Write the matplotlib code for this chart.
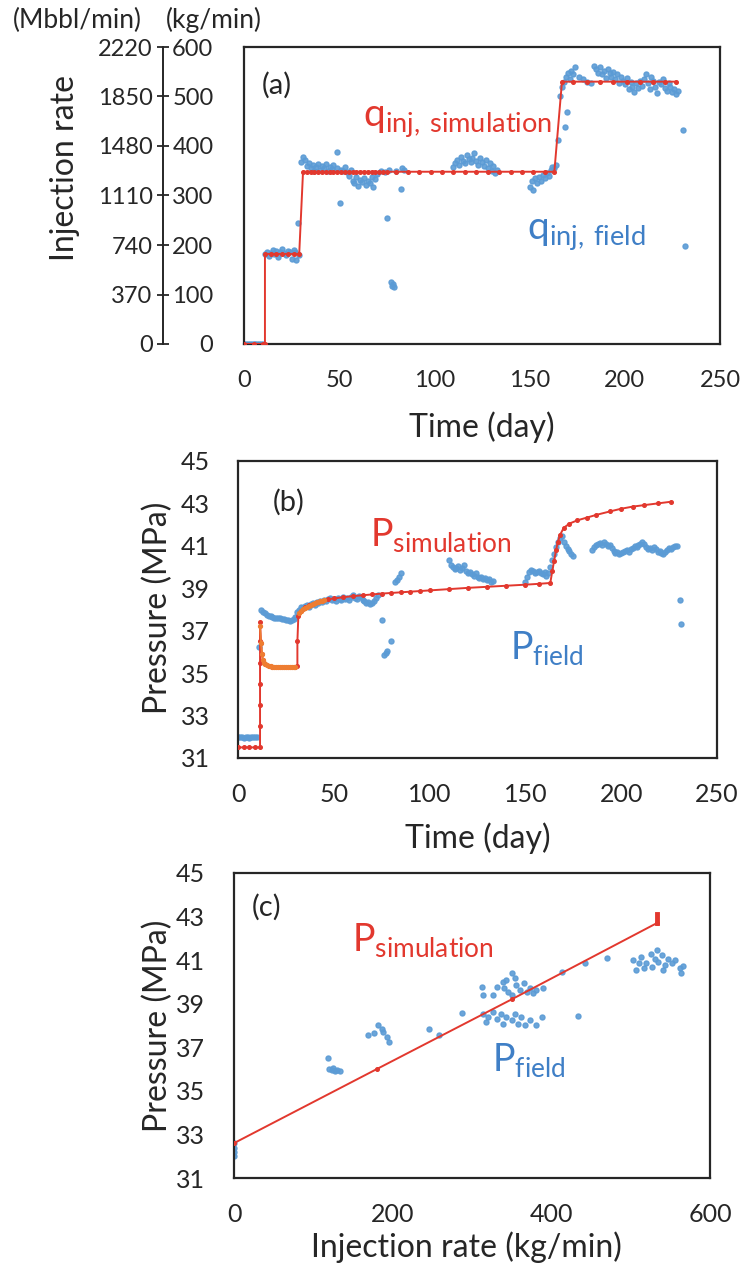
import numpy as np
import matplotlib
matplotlib.use("Agg")
import matplotlib.pyplot as plt

plt.rcParams['font.family'] = ['Lato', 'DejaVu Sans']

RED = '#e2382e'
ORANGE = '#ee7d32'
BLUE = '#5b9bd5'
TXT_BLUE = '#3f7fc6'
DARK = '#262626'

# ---------------- (a) injection rate vs time ----------------
field_day_a = [0, 1, 2, 3, 4, 5, 6, 7, 8, 9,
               10, 11, 12, 13, 14, 15, 16, 17, 18, 19,
               20, 21, 22, 23, 24, 25, 26, 27, 27.5, 28.4,
               29, 30, 31, 32, 33, 34, 35, 36, 37, 38,
               39, 40, 41, 42, 43, 44, 45, 46, 47, 48.7,
               49, 50.4, 51, 52, 53, 54, 55, 56, 57, 58,
               59, 60, 61, 62, 63, 64, 65, 66, 67, 68,
               69, 70, 72, 74, 75, 76, 77, 77.5, 78, 79,
               80, 82.3, 83, 84, 110, 111, 112, 113, 114, 115,
               116, 117, 118, 119, 120, 121, 122, 123, 124, 125,
               126, 127, 128, 129, 130, 131, 132, 133, 150, 151,
               152, 153, 154, 155, 156, 157, 158, 159, 160, 161,
               162, 163, 164, 165, 166, 167, 168.6, 169.5, 168, 169,
               170, 171, 172, 173, 174, 176, 178, 180, 182, 184,
               185, 186, 187, 188, 189, 190, 191, 192, 193, 194,
               195, 196, 197, 198, 199, 200, 201, 202, 203, 204,
               205, 206, 207, 208, 209, 210, 211, 212, 213, 214,
               215, 216, 217, 218, 219, 220, 221, 222, 223, 224,
               225, 226, 227, 228, 230.4, 231.6]
field_rate_a = [0, 0, 0, 0, 0, 0, 0, 0, 0, 0,
                0, 182, 186, 178, 184, 190, 181, 187, 176, 185,
                192, 183, 179, 188, 185, 172, 190, 186, 170, 245,
                180, 368, 378, 372, 360, 366, 355, 362, 350, 358,
                364, 352, 360, 356, 363, 350, 358, 353, 361, 388,
                355, 285, 352, 349, 357, 347, 340, 352, 330, 325,
                338, 320, 332, 328, 335, 322, 330, 326, 338, 318,
                333, 344, 350, 348, 254, 352, 125, 118, 122, 115,
                350, 314, 355, 352, 358, 366, 372, 362, 378, 370,
                365, 381, 374, 368, 376, 385, 370, 362, 375, 368,
                360, 372, 355, 365, 350, 360, 345, 352, 318, 330,
                312, 335, 325, 338, 330, 342, 336, 345, 340, 352,
                358, 355, 362, 412, 500, 520, 439, 469, 530, 540,
                548, 535, 552, 545, 560, 540, 535, 530, 528, 562,
                555, 548, 560, 545, 552, 538, 555, 548, 540, 550,
                535, 545, 528, 540, 532, 525, 538, 515, 530, 520,
                510, 528, 518, 532, 522, 535, 545, 528, 515, 540,
                532, 520, 508, 530, 525, 535, 518, 512, 528, 520,
                510, 516, 505, 512, 432, 197]

sim_day_a = [0, 5, 10, 11, 11, 14, 17, 20, 23, 26, 29,
             31, 33, 35, 37, 39, 41, 43, 45, 47, 49, 51, 53, 55, 57, 59, 61,
             63, 65, 67, 69, 71, 73, 75,
             80, 86, 92, 98, 104, 110, 116, 122, 128, 134, 140, 146, 152, 158, 163,
             167, 173, 180, 187, 194, 201, 208, 215, 221, 227]
sim_rate_a = [0, 0, 0, 0, 182, 182, 182, 182, 182, 182, 182,
              348, 348, 348, 348, 348, 348, 348, 348, 348, 348, 348, 348, 348, 348, 348, 348,
              348, 348, 348, 348, 348, 348, 348,
              348, 348, 348, 348, 348, 348, 348, 348, 348, 348, 348, 348, 348, 348, 348,
              530, 530, 530, 530, 530, 530, 530, 530, 530, 530]

kg_ticks = [0, 100, 200, 300, 400, 500, 600]
mbbl_ticks = [0, 370, 740, 1110, 1480, 1850, 2220]
time_ticks = [0, 50, 100, 150, 200, 250]

# ---------------- (b) pressure vs time ----------------
field_day_b = [0, 1, 2, 3, 4, 5, 6, 7, 8, 9,
               10, 11.2, 12, 13, 14, 15, 16, 17, 18, 19,
               20, 21, 22, 23, 24, 25, 26, 27, 28, 29,
               30, 31, 32, 33, 34, 35, 36, 37, 38, 39,
               40, 41, 42, 43, 44, 45, 46, 47, 48, 49,
               50, 51, 52, 53, 54, 55, 56, 57, 58, 59,
               60, 61, 62, 63, 64, 65, 66, 67, 68, 69,
               70, 71, 72, 73, 75, 76, 77, 78, 80, 82,
               83, 84, 85, 110, 111, 112, 113, 114, 115, 116,
               117, 118, 119, 120, 121, 122, 123, 124, 125, 126,
               127, 128, 129, 130, 131, 132, 133, 150, 151, 152,
               153, 154, 155, 156, 157, 158, 159, 160, 161, 162,
               163, 164, 165, 166, 167, 168, 169, 170, 171, 172,
               173, 174, 175, 185, 186, 187, 188, 189, 190, 191,
               192, 193, 194, 195, 196, 197, 198, 199, 200, 201,
               202, 203, 204, 205, 206, 207, 208, 209, 210, 211,
               212, 213, 214, 215, 216, 217, 218, 219, 220, 221,
               222, 223, 224, 225, 226, 227, 228, 229, 230.5, 231]
field_p_b = [32.0, 32.0, 32.0, 31.95, 32.0, 32.0, 31.95, 32.0, 32.0, 32.0,
             32.0, 36.25, 38.0, 37.9, 37.85, 37.75, 37.7, 37.7, 37.65, 37.6,
             37.6, 37.62, 37.58, 37.55, 37.55, 37.5, 37.52, 37.48, 37.5, 37.55,
             37.65, 37.9, 38.0, 38.1, 38.05, 38.15, 38.2, 38.1, 38.25, 38.3,
             38.2, 38.35, 38.3, 38.4, 38.35, 38.45, 38.4, 38.5, 38.55, 38.45,
             38.5, 38.4, 38.55, 38.5, 38.45, 38.6, 38.5, 38.55, 38.45, 38.6,
             38.7, 38.55, 38.5, 38.65, 38.6, 38.45, 38.4, 38.3, 38.35, 38.25,
             38.3, 38.4, 38.55, 38.7, 37.5, 35.85, 35.95, 36.05, 36.5, 39.3,
             39.4, 39.55, 39.7, 40.35, 40.1, 40.0, 39.9, 39.95, 40.05, 39.85,
             39.95, 40.1, 39.8, 39.7, 39.75, 39.65, 39.6, 39.7, 39.55, 39.5,
             39.55, 39.45, 39.5, 39.4, 39.45, 39.3, 39.35, 39.3, 39.55, 39.75,
             39.85, 39.8, 39.7, 39.75, 39.8, 39.7, 39.65, 39.75, 39.6, 39.7,
             40.0, 40.35, 40.6, 40.95, 41.2, 41.35, 41.45, 41.2, 41.0, 40.85,
             40.75, 40.6, 40.5, 40.8, 40.95, 41.05, 41.1, 41.15, 41.05, 41.2,
             41.1, 41.0, 41.05, 40.9, 40.75, 40.65, 40.7, 40.6, 40.65, 40.7,
             40.75, 40.8, 40.7, 40.85, 40.9, 41.0, 40.95, 41.05, 41.1, 41.2,
             41.1, 40.95, 40.85, 40.9, 40.8, 40.95, 40.85, 40.7, 40.75, 40.65,
             40.6, 40.7, 40.8, 40.9, 40.85, 40.95, 41.0, 41.0, 38.45, 37.3]

sim_day_b = [0, 3, 6, 9, 11.5, 11.5, 11.5, 11.5, 11.5, 11.5, 11.5,
             12, 12.5, 13, 14, 16, 18, 20, 22, 24, 26, 28, 30,
             31, 31, 31.5, 33, 35, 37, 39, 41, 44, 47, 50, 55, 60, 65, 70, 75, 80, 85, 90, 95, 100,
             110, 120, 130, 140, 150, 157, 163,
             164, 165, 166, 167, 168, 170, 173, 177, 182, 187, 194, 200, 206, 212, 219, 226]
sim_p_b = [31.5, 31.5, 31.5, 31.5, 31.5, 32.5, 33.5, 34.5, 35.5, 36.5, 37.4,
           36.4, 35.9, 35.6, 35.45, 35.35, 35.3, 35.3, 35.3, 35.3, 35.3, 35.3, 35.3,
           35.35, 36.5, 37.7, 37.95, 38.1, 38.2, 38.28, 38.35, 38.42, 38.48, 38.52, 38.58,
           38.63, 38.67, 38.71, 38.75, 38.78, 38.81, 38.84, 38.87, 38.9,
           38.96, 39.02, 39.07, 39.12, 39.17, 39.21, 39.25,
           39.8, 40.3, 40.8, 41.2, 41.5, 41.85, 42.05, 42.2, 42.33, 42.46, 42.62,
           42.75, 42.85, 42.92, 43.0, 43.08]

orange_day_b = [11.5, 12, 12.5, 13, 13.5, 14, 15, 16, 17, 18, 19, 20, 21, 22, 23,
                24, 25, 26, 27, 28, 29, 30, np.nan,
                32, 33, 34, 35, 36, 37, 38, 39, 40, 41, 42, 43, 44, 45]
orange_p_b = [37.2, 36.4, 35.9, 35.6, 35.5, 35.45, 35.4, 35.35, 35.32, 35.3, 35.3, 35.3,
              35.3, 35.3, 35.3, 35.3, 35.3, 35.3, 35.3, 35.3, 35.3, 35.3, np.nan,
              37.85, 37.95, 38.02, 38.08, 38.14, 38.18, 38.22, 38.26, 38.3, 38.33,
              38.36, 38.39, 38.41, 38.44]

p_ticks = [31, 33, 35, 37, 39, 41, 43, 45]

# ---------------- (c) pressure vs injection rate ----------------
field_rate_c = [0, 0, 0, 0,
                118, 120, 123, 125, 127, 130, 133,
                169, 176, 182, 186, 188, 193, 195,
                246, 258, 287,
                312, 314, 327, 331, 339, 340, 343, 345, 350, 351,
                354, 356, 360, 365, 369, 373, 377, 381, 390,
                314, 318, 320, 327, 331, 337, 339, 343, 350, 354,
                358, 362, 367, 373, 381, 388,
                413, 434, 442, 470,
                503, 507, 511, 513, 517, 519, 525, 527, 531, 533,
                535, 539, 541, 543, 547, 552, 556, 562, 564, 566]
field_p_c = [32.0, 32.2, 32.4, 32.6,
             36.5, 36.0, 35.95, 36.05, 35.9, 35.95, 35.9,
             37.56, 37.64, 38.02, 37.86, 37.71, 37.48, 37.25,
             37.82, 37.56, 38.58,
             39.75, 39.39, 39.39, 39.78, 40.0, 39.7, 40.1, 39.55, 40.39, 39.39,
             40.16, 39.85, 39.62, 39.93, 39.55, 39.7, 39.47, 39.62, 39.73,
             38.55, 38.17, 38.4, 38.62, 38.32, 38.55, 38.09, 38.4, 38.24, 38.55,
             38.09, 38.4, 38.02, 38.24, 38.02, 38.4,
             40.46, 38.43, 40.89, 41.12,
             41.0, 40.54, 40.85, 41.15, 40.62, 40.85, 41.3, 40.7, 41.07, 41.45,
             40.92, 41.22, 40.54, 40.77, 41.07, 40.85, 41.0, 40.62, 40.39, 40.73]

sim_rate_c = [0, 180, 350, 533]
sim_p_c = [32.6, 36.0, 39.2, 42.7]
sim_top_rate_c = [533, 533]
sim_top_p_c = [42.7, 43.1]

rate_ticks = [0, 200, 400, 600]

W, H = 743, 1268
fig = plt.figure(figsize=(W / 100, H / 100), dpi=100)


def box(ax):
    for s in ax.spines.values():
        s.set_linewidth(1.6)
        s.set_color(DARK)


# (a)
ax1 = fig.add_axes([244 / W, 1 - 344 / H, 476 / W, 297 / H])
ax1.plot(sim_day_a, sim_rate_a, '-', color=RED, lw=1.4, marker='o', ms=2.6, zorder=3)
ax1.plot(field_day_a, field_rate_a, 'o', color=BLUE, ms=3.6, alpha=0.9, zorder=2)
ax1.set_xlim(0, 250)
ax1.set_ylim(0, 600)
ax1.set_xticks(time_ticks)
ax1.set_yticks(kg_ticks)
ax1.tick_params(axis='x', length=0, pad=19, labelsize=17, colors=DARK)
ax1.tick_params(axis='y', length=0, pad=22, labelsize=17, colors=DARK)
box(ax1)

sec = ax1.secondary_yaxis(-0.17, functions=(lambda v: v * 3.7, lambda v: v / 3.7))
sec.set_yticks(mbbl_ticks)
sec.tick_params(direction='inout', length=9, width=1.3, pad=3, labelsize=17, colors=DARK)
sec.spines['left'].set_linewidth(1.4)
sec.spines['left'].set_color(DARK)

ax1.text(0.038, 0.872, '(a)', transform=ax1.transAxes, fontsize=21, va='center', color=DARK)
ax1.text(0.25, 0.731, r'q$_{\mathregular{inj,\,simulation}}$', transform=ax1.transAxes,
         fontsize=28, color=RED, va='baseline')
ax1.text(0.595, 0.35, r'q$_{\mathregular{inj,\,field}}$', transform=ax1.transAxes,
         fontsize=28, color=TXT_BLUE, va='baseline')

fig.text(65 / W, 1 - 168 / H, 'Injection rate', rotation=90, ha='center', va='center',
         fontsize=23, color=DARK)
fig.text(13 / W, 1 - 20 / H, '(Mbbl/min)', ha='left', va='center', fontsize=19, color=DARK)
fig.text(166 / W, 1 - 20 / H, '(kg/min)', ha='left', va='center', fontsize=19, color=DARK)
fig.text(482 / W, 1 - 427 / H, 'Time (day)', ha='center', va='center', fontsize=23, color=DARK)

# (b)
ax2 = fig.add_axes([238 / W, 1 - 758 / H, 479 / W, 297 / H])
ax2.plot(sim_day_b, sim_p_b, '-', color=RED, lw=1.4, marker='o', ms=2.6, zorder=3)
ax2.plot(orange_day_b, orange_p_b, '-', color=ORANGE, lw=1.4, marker='o', ms=2.8, zorder=4)
ax2.plot(field_day_b, field_p_b, 'o', color=BLUE, ms=3.6, alpha=0.9, zorder=2)
ax2.set_xlim(0, 250)
ax2.set_ylim(31, 45)
ax2.set_xticks(time_ticks)
ax2.set_yticks(p_ticks)
ax2.tick_params(axis='x', length=0, pad=18, labelsize=18, colors=DARK)
ax2.tick_params(axis='y', length=0, pad=20, labelsize=18, colors=DARK)
box(ax2)

ax2.text(0.073, 0.862, '(b)', transform=ax2.transAxes, fontsize=21, va='center', color=DARK)
ax2.text(0.276, 0.71, r'P$_{\mathregular{simulation}}$', transform=ax2.transAxes,
         fontsize=27, color=RED, va='baseline')
ax2.text(0.568, 0.33, r'P$_{\mathregular{field}}$', transform=ax2.transAxes,
         fontsize=27, color=TXT_BLUE, va='baseline')

fig.text(158 / W, 1 - 608 / H, 'Pressure (MPa)', rotation=90, ha='center', va='center',
         fontsize=23, color=DARK)
fig.text(478 / W, 1 - 838 / H, 'Time (day)', ha='center', va='center', fontsize=23, color=DARK)

# (c)
ax3 = fig.add_axes([234 / W, 1 - 1178 / H, 476 / W, 305 / H])
ax3.plot(sim_rate_c, sim_p_c, '-', color=RED, lw=1.4, marker='o', ms=2.6, zorder=3)
ax3.plot(sim_top_rate_c, sim_top_p_c, '-', color=RED, lw=3.5, zorder=3)
ax3.plot(field_rate_c, field_p_c, 'o', color=BLUE, ms=3.6, alpha=0.9, zorder=2)
ax3.set_xlim(0, 600)
ax3.set_ylim(31, 45)
ax3.set_xticks(rate_ticks)
ax3.set_yticks(p_ticks)
ax3.tick_params(axis='x', length=0, pad=18, labelsize=18, colors=DARK)
ax3.tick_params(axis='y', length=0, pad=21, labelsize=18, colors=DARK)
box(ax3)

ax3.text(0.038, 0.889, '(c)', transform=ax3.transAxes, fontsize=21, va='center', color=DARK)
ax3.text(0.248, 0.741, r'P$_{\mathregular{simulation}}$', transform=ax3.transAxes,
         fontsize=27, color=RED, va='baseline')
ax3.text(0.542, 0.348, r'P$_{\mathregular{field}}$', transform=ax3.transAxes,
         fontsize=27, color=TXT_BLUE, va='baseline')

fig.text(158 / W, 1 - 1026 / H, 'Pressure (MPa)', rotation=90, ha='center', va='center',
         fontsize=23, color=DARK)
fig.text(466 / W, 1 - 1247 / H, 'Injection rate (kg/min)', ha='center', va='center',
         fontsize=23, color=DARK)

fig.savefig('out.png', dpi=100)
